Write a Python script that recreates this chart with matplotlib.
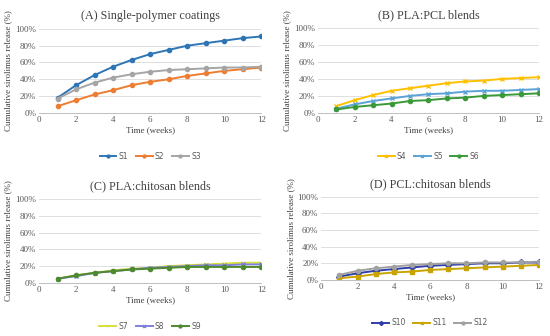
import matplotlib
matplotlib.use("Agg")
import matplotlib.pyplot as plt
from matplotlib.ticker import PercentFormatter

weeks = list(range(1, 13))

s1 = [18, 33, 45, 55, 63, 70, 75, 80, 83, 86, 89, 91]
s2 = [8, 15, 22, 27, 33, 37, 40, 44, 47, 50, 52, 54]
s3 = [17, 28, 36, 42, 46, 49, 51, 52, 53, 54, 54, 55]
s4 = [8, 15, 21, 26, 29, 32, 35, 37, 38, 40, 41, 42]
s5 = [5, 10, 14, 17, 20, 22, 23, 25, 26, 26, 27, 28]
s6 = [4, 7, 9, 11, 14, 15, 17, 18, 20, 21, 22, 23]
s7 = [5, 9, 12, 15, 17, 18, 20, 21, 22, 23, 24, 24]
s8 = [5, 8, 12, 14, 16, 18, 19, 20, 21, 21, 22, 22]
s9 = [5, 9, 12, 14, 16, 17, 18, 19, 19, 19, 19, 19]
s10 = [4, 8, 11, 13, 15, 17, 18, 19, 20, 20, 21, 21]
s11 = [2, 4, 7, 9, 10, 12, 13, 14, 15, 16, 17, 18]
s12 = [6, 11, 14, 16, 18, 19, 20, 20, 21, 21, 21, 22]

panels = [
    ("(A) Single-polymer coatings", [0.071, 0.664, 0.404, 0.250],
     [("S1", s1, "#2E75B6", "o"), ("S2", s2, "#ED7D31", "o"), ("S3", s3, "#A5A5A5", "o")]),
    ("(B) PLA:PCL blends", [0.578, 0.664, 0.402, 0.253],
     [("S4", s4, "#FFC000", "x"), ("S5", s5, "#5BA3D6", "x"), ("S6", s6, "#3A9A3A", "o")]),
    ("(C) PLA:chitosan blends", [0.071, 0.158, 0.404, 0.250],
     [("S7", s7, "#D9DE3A", "_"), ("S8", s8, "#7F7FD9", "x"), ("S9", s9, "#4E8A2E", "o")]),
    ("(D) PCL:chitosan blends", [0.584, 0.167, 0.396, 0.247],
     [("S10", s10, "#2F3FA8", "D"), ("S11", s11, "#C9A400", "s"), ("S12", s12, "#A0A0A0", "o")]),
]

serif = "Liberation Serif"
fig = plt.figure(figsize=(5.5, 3.36), dpi=100)

for title, rect, series in panels:
    ax = fig.add_axes(rect)
    for name, vals, color, mk in series:
        ax.plot(weeks, vals, color=color, marker=mk, markersize=3,
                markeredgewidth=1, linewidth=1.4, label=name)
    ax.set_xlim(0, 12)
    ax.set_ylim(0, 100)
    ax.set_xticks(range(0, 13, 2))
    ax.set_yticks(range(0, 101, 20))
    ax.yaxis.set_major_formatter(PercentFormatter(decimals=0))
    ax.grid(axis="y", color="#D9D9D9", linewidth=0.6)
    ax.set_axisbelow(True)
    for side in ("top", "right", "left"):
        ax.spines[side].set_visible(False)
    ax.spines["bottom"].set_color("#BFBFBF")
    ax.spines["bottom"].set_linewidth(0.7)
    ax.tick_params(length=0, labelsize=6.5, colors="#595959", pad=2)
    for lab in ax.get_xticklabels() + ax.get_yticklabels():
        lab.set_fontfamily(serif)
    ax.set_title(title, fontsize=8.7, family=serif, color="#404040", pad=7)
    ax.set_xlabel("Time (weeks)", fontsize=6.5, family=serif, color="#404040", labelpad=2)
    ax.set_ylabel("Cumulative sirolimus release (%)", fontsize=6.5, family=serif,
                  color="#404040", labelpad=2)
    leg = ax.legend(loc="upper center", bbox_to_anchor=(0.5, -0.38), ncol=3,
                    frameon=False, fontsize=5.5, handlelength=2.2,
                    columnspacing=1.0, handletextpad=0.3, markerscale=0.7)
    for t in leg.get_texts():
        t.set_color("#595959")

fig.savefig("out.png", dpi=100, facecolor="white")
